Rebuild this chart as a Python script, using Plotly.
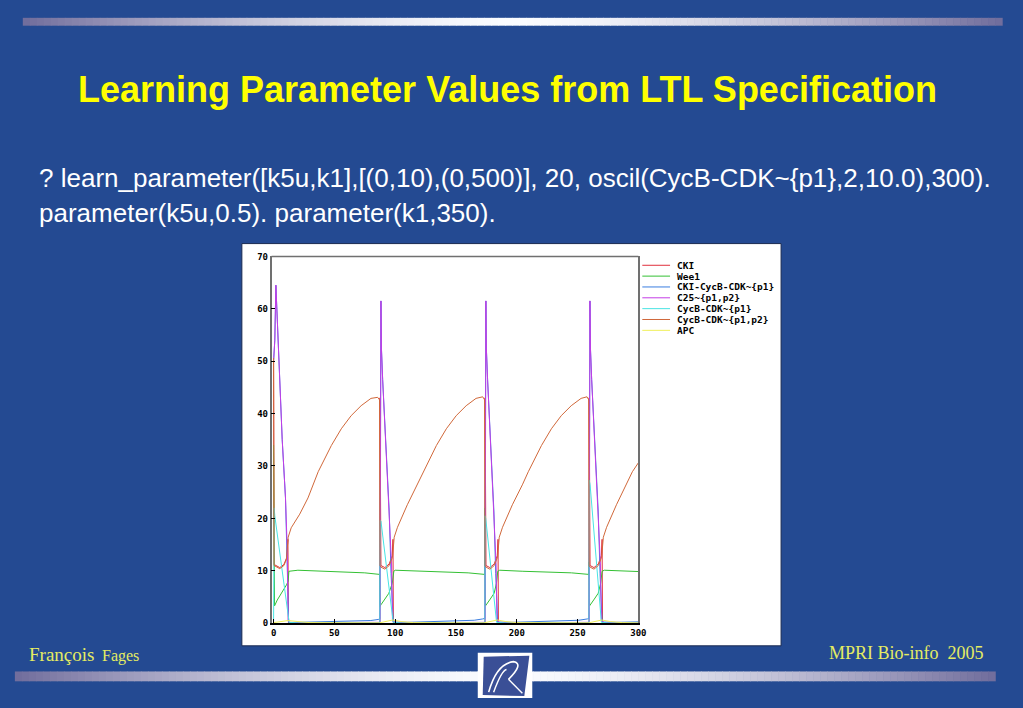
import plotly.graph_objects as go

W, H = 1023, 708

# ---------------- data ----------------
series_names = ["CKI", "Wee1", "CKI-CycB-CDK~{p1}", "C25~{p1,p2}",
                "CycB-CDK~{p1}", "CycB-CDK~{p1,p2}", "APC"]
series_colors = ["#e0303c", "#34c034", "#3a7ee0", "#c43ce6",
                 "#48e4e4", "#d0683a", "#f0f05a"]

x_ticks = [0, 50, 100, 150, 200, 250, 300]
y_ticks = [0, 10, 20, 30, 40, 50, 60, 70]

t_cki = [0, 0.4, 5.1, 8.5, 10.6, 11.8, 12.2, 87.4, 87.5, 87.8, 88.3, 91.5, 95.1, 97.6, 98.2, 98.5,
         173.8, 173.9, 174.2, 174.7, 177.9, 181.5, 184.0, 184.6, 184.9, 259.4, 259.5, 259.8, 260.3,
         263.5, 267.1, 269.6, 270.2, 270.5, 300]
v_cki = [50.0, 11.2, 10.6, 11.2, 12.4, 16.0, 0.1, 0.1, 43.0, 11.3, 11.0, 10.6, 11.3, 12.9, 16.0, 0.1,
         0.1, 43.0, 11.3, 11.0, 10.6, 11.3, 12.9, 16.0, 0.1, 0.1, 43.0, 11.3, 11.0,
         10.6, 11.3, 12.9, 16.0, 0.1, 0.1]

t_wee1 = [0, 0.8, 3.0, 6.0, 9.2, 10.6, 12.0, 12.6, 20, 40, 60, 75, 87.3,
          87.6, 88.3, 91.5, 94.8, 97.6, 98.9, 100, 120, 145, 160, 173.7,
          174.0, 174.3, 175.0, 178.2, 181.4, 183.3, 184.4, 186, 205, 230, 245, 259.3,
          259.6, 259.9, 260.6, 263.8, 267.0, 269.0, 270.2, 272, 300]
v_wee1 = [34.0, 3.3, 4.4, 5.5, 6.6, 7.3, 8.0, 9.9, 10.1, 9.9, 9.7, 9.6, 9.3,
          3.2, 3.5, 4.6, 5.7, 7.6, 9.9, 10.1, 9.9, 9.7, 9.6, 9.3,
          22.0, 3.3, 3.5, 4.6, 5.7, 7.6, 9.9, 10.1, 9.9, 9.7, 9.6, 9.3,
          11.7, 3.3, 3.5, 4.6, 5.7, 7.6, 9.9, 10.1, 9.85]

t_ckicyc = [0, 1.0, 1.9, 4.5, 7.1, 9.8, 11.4, 12.4, 20, 40, 60, 80, 86, 87.4,
            88.3, 88.7, 89.7, 92.4, 95.1, 96.6, 98.4, 110, 130, 150, 165, 172, 173.8,
            174.6, 175.0, 176.0, 178.6, 181.2, 182.7, 184.3, 196, 216, 236, 251, 258, 259.4,
            260.2, 260.6, 261.6, 264.3, 267.0, 268.5, 270.2, 282, 300]
v_ckicyc = [50.0, 54.0, 64.5, 49.5, 35.0, 23.9, 9.0, 0.1, 0.15, 0.25, 0.35, 0.5, 0.7, 0.8,
            61.5, 52.5, 46.5, 33.9, 21.4, 9.5, 0.2, 0.15, 0.25, 0.4, 0.55, 0.8, 0.9,
            61.5, 52.5, 46.5, 33.9, 21.4, 9.5, 0.2, 0.15, 0.25, 0.4, 0.55, 0.8, 0.9,
            61.5, 52.5, 46.5, 33.9, 21.4, 9.5, 0.2, 0.15, 0.25]

t_c25 = [0, 1.0, 1.9, 4.5, 7.1, 9.8, 11.2, 12.0, 13, 30, 60, 87.4,
         87.6, 88.3, 88.7, 89.7, 92.4, 95.1, 97.0, 97.8, 100, 130, 173.8,
         174.0, 174.6, 175.0, 176.0, 178.6, 181.2, 183.0, 183.7, 186, 220, 259.4,
         259.6, 260.2, 260.6, 261.6, 264.3, 267.0, 268.8, 269.6, 272, 300]
v_c25 = [50.0, 54.0, 64.5, 49.5, 35.0, 23.9, 14.5, 0.4, 0.15, 0.1, 0.1, 0.15,
         0.3, 61.5, 52.5, 46.5, 33.9, 21.4, 11.3, 0.5, 0.15, 0.1, 0.15,
         0.3, 61.5, 52.5, 46.5, 33.9, 21.4, 11.3, 0.5, 0.15, 0.1, 0.15,
         0.3, 61.5, 52.5, 46.5, 33.9, 21.4, 11.3, 0.5, 0.15, 0.1]

t_cyc1 = [0, 0.5, 1.0, 6.5, 12.8, 20, 87.4, 87.6, 88.3, 98.4, 105, 173.8,
          174.0, 174.5, 183.4, 190, 259.4, 259.6, 260.3, 269.6, 275, 300]
v_cyc1 = [0.3, 22.0, 20.5, 11.0, 0.15, 0.05, 0.05, 19.6, 19.5, 0.15, 0.05, 0.05,
          20.5, 20.0, 0.15, 0.05, 0.05, 27.3, 26.5, 0.15, 0.05, 0.05]

t_cyc12 = [0, 0.4, 5.1, 8.5, 10.6, 12.0, 14.5, 21.5, 28.3, 36.7, 47.5, 55.7, 63.8, 72.0, 80.1, 85.6, 87.2,
           87.6, 88.3, 91.5, 95.1, 97.8, 99.2, 101.9, 110.0, 118.2, 123.1, 133.9, 142.1, 150.2, 158.4, 166.5, 172.0, 173.6,
           174.0, 174.7, 177.9, 181.5, 184.2, 185.6, 188.3, 196.4, 204.6, 209.5, 220.3, 228.5, 236.6, 244.8, 252.9, 257.8, 259.2,
           259.6, 260.3, 263.5, 267.1, 269.8, 271.2, 273.9, 282.0, 290.2, 295.1, 300]
v_cyc12 = [50.6, 11.0, 10.4, 11.0, 12.2, 16.4, 18.2, 20.8, 23.9, 28.9, 33.9, 37.1, 39.6, 41.5, 42.9, 43.1, 42.6,
           11.0, 10.7, 10.3, 11.0, 12.6, 16.4, 18.3, 22.6, 26.4, 28.9, 33.9, 37.1, 39.6, 41.5, 42.9, 43.2, 42.6,
           11.0, 10.7, 10.3, 11.0, 12.6, 16.4, 18.3, 22.6, 26.4, 28.9, 33.9, 37.1, 39.6, 41.5, 42.9, 43.2, 42.6,
           11.0, 10.7, 10.3, 11.0, 12.6, 16.4, 18.3, 22.6, 26.4, 28.9, 30.6]

t_apc = [0, 5, 12, 20, 30, 87, 92, 98, 105, 115, 173, 178, 184, 191, 200, 259, 264, 270, 277, 287, 300]
v_apc = [0.1, 0.3, 0.5, 0.3, 0.1, 0.05, 0.3, 0.6, 0.3, 0.1, 0.05, 0.3, 0.6, 0.3, 0.1, 0.05, 0.3, 0.6, 0.3, 0.1, 0.05]

series_t = [t_cki, t_wee1, t_ckicyc, t_c25, t_cyc1, t_cyc12, t_apc]
series_v = [v_cki, v_wee1, v_ckicyc, v_c25, v_cyc1, v_cyc12, v_apc]

title_text = "Learning Parameter Values from LTL Specification"
body_lines = ["? learn_parameter([k5u,k1],[(0,10),(0,500)], 20, oscil(CycB-CDK~{p1},2,10.0),300).",
              "parameter(k5u,0.5). parameter(k1,350)."]

# ---------------- helpers (page pixel -> paper) ----------------
def px(x):
    return x / W


def py(y):
    return 1 - y / H


BG = "#244a92"
fig = go.Figure()

for name, col, tt, vv in zip(series_names, series_colors, series_t, series_v):
    fig.add_trace(go.Scatter(x=tt, y=vv, mode="lines", name=name,
                             line=dict(color=col, width=1), showlegend=False))

shapes = []
annotations = []

# white chart image
shapes.append(dict(type="rect", xref="paper", yref="paper", x0=px(243), x1=px(787),
                   y0=py(650), y1=py(242), fillcolor="white",
                   line=dict(color="#1a2a50", width=1), layer="below"))
# top frame of plot
shapes.append(dict(type="line", xref="paper", yref="paper", x0=px(273), x1=px(643),
                   y0=py(255), y1=py(255), line=dict(color="#707070", width=1.5)))


# gradient bars
def grad_bar(x0, x1, y0, y1, n=140):
    edge = (112, 108, 156)
    cen = (250, 252, 255)
    xc = (x0 + x1) / 2
    hw = (x1 - x0) / 2
    for i in range(n):
        xa = x0 + (x1 - x0) * i / n
        xb = x0 + (x1 - x0) * (i + 1) / n
        d = abs((xa + xb) / 2 - xc) / hw
        f = d ** 1.5
        c = tuple(int(round(edge[k] * f + cen[k] * (1 - f))) for k in range(3))
        shapes.append(dict(type="rect", xref="paper", yref="paper",
                           x0=px(xa), x1=px(xb + 0.6), y0=py(y1), y1=py(y0),
                           fillcolor="rgb(%d,%d,%d)" % c, line=dict(width=0), layer="below"))


grad_bar(22, 1010, 13, 21)
grad_bar(14, 1003, 676, 686)

# logo
shapes.append(dict(type="rect", xref="paper", yref="paper", x0=px(481), x1=px(536),
                   y0=py(703), y1=py(657), fillcolor="white", line=dict(width=0)))


def path(points):
    s = "M " + " L ".join("%.5f,%.5f" % (px(a), py(b)) for a, b in points) + " Z"
    return s


shapes.append(dict(type="path", xref="paper", yref="paper",
                   path=path([(487, 661), (533, 660), (528, 701), (486, 700)]),
                   fillcolor="#3a4f96", line=dict(width=0)))
shapes.append(dict(type="path", xref="paper", yref="paper",
                   path="M %.5f,%.5f Q %.5f,%.5f %.5f,%.5f Q %.5f,%.5f %.5f,%.5f" % (
                       px(492), py(697), px(500), py(668), px(517), py(666),
                       px(528), py(668), px(512), py(684)),
                   line=dict(color="white", width=1.6)))
shapes.append(dict(type="path", xref="paper", yref="paper",
                   path="M %.5f,%.5f Q %.5f,%.5f %.5f,%.5f" % (
                       px(497), py(697), px(505), py(675), px(510), py(674)),
                   line=dict(color="white", width=1.4)))
shapes.append(dict(type="path", xref="paper", yref="paper",
                   path="M %.5f,%.5f L %.5f,%.5f" % (px(512), py(684), px(526), py(698)),
                   line=dict(color="white", width=1.4)))

# manual legend (compact rows as in the source image)
leg_font = dict(family="DejaVu Sans Mono", size=9.5, color="black", weight="bold")
for i, (name, col) in enumerate(zip(series_names, series_colors)):
    yy = 264 + 11 * i
    shapes.append(dict(type="line", xref="paper", yref="paper", x0=px(647), x1=px(675),
                       y0=py(yy), y1=py(yy), line=dict(color=col, width=1)))
    annotations.append(dict(xref="paper", yref="paper", x=px(680), y=py(yy), text=name,
                            showarrow=False, xanchor="left", yanchor="middle", font=leg_font))

# slide texts
annotations.append(dict(xref="paper", yref="paper", x=px(511), y=py(86), text=title_text,
                        showarrow=False, xanchor="center", yanchor="middle",
                        font=dict(family="Liberation Sans, Arial", size=36, color="#ffff00",
                                  weight="bold")))
for i, line in enumerate(body_lines):
    annotations.append(dict(xref="paper", yref="paper", x=px(36), y=py(175 + 36 * i), text=line,
                            showarrow=False, xanchor="left", yanchor="middle",
                            font=dict(family="Liberation Sans, Arial", size=26, color="white")))
foot_col = "#e4ec62"
annotations.append(dict(xref="paper", yref="paper", x=px(26), y=py(659), text="François",
                        showarrow=False, xanchor="left", yanchor="middle",
                        font=dict(family="Liberation Serif, Times New Roman", size=19, color=foot_col)))
annotations.append(dict(xref="paper", yref="paper", x=px(100), y=py(660), text="Fages",
                        showarrow=False, xanchor="left", yanchor="middle",
                        font=dict(family="Liberation Serif, Times New Roman", size=16, color=foot_col)))
annotations.append(dict(xref="paper", yref="paper", x=px(994), y=py(657),
                        text="MPRI Bio-info\u00a0\u00a02005",
                        showarrow=False, xanchor="right", yanchor="middle",
                        font=dict(family="Liberation Serif, Times New Roman", size=18, color=foot_col)))

tick_font = dict(family="DejaVu Sans Mono", size=9, color="black", weight="bold")
fig.update_layout(
    width=W, height=H, autosize=False,
    margin=dict(l=0, r=0, t=0, b=0),
    paper_bgcolor=BG, plot_bgcolor="white",
    shapes=shapes, annotations=annotations,
    showlegend=False,
    xaxis=dict(domain=[px(273), px(643)], range=[-1.63, 300], tickvals=x_ticks,
               ticks="inside", ticklen=4, tickcolor="black", showgrid=False, zeroline=False,
               showline=True, linecolor="black", linewidth=1.5, tickfont=tick_font),
    yaxis=dict(domain=[py(627), py(255)], range=[0, 70], tickvals=y_ticks,
               ticks="inside", ticklen=4, tickcolor="black", showgrid=False, zeroline=False,
               showline=True, mirror=True, linecolor="#707070", linewidth=1.5, tickfont=tick_font),
)

fig.write_html(
    "out.html",
    config={"displayModeBar": False, "responsive": False},
    post_script=(
        "document.documentElement.style.margin='0';document.documentElement.style.padding='0';"
        "document.documentElement.style.overflow='hidden';"
        "document.documentElement.style.background='%s';"
        "document.body.style.margin='0';document.body.style.padding='0';"
        "document.body.style.overflow='hidden';document.body.style.background='%s';"
        "var d=document.getElementById('{plot_id}');d.style.position='fixed';"
        "d.style.left='0px';d.style.top='0px';" % (BG, BG)
    ),
)
